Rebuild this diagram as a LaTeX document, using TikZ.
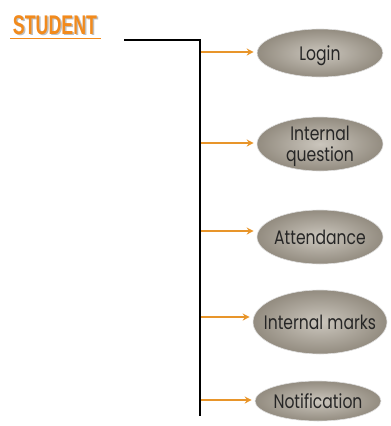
\documentclass[tikz,border=0pt]{standalone}
\usepackage{fontspec}
\setmainfont{Poppins}
\newfontfamily\titlefont{Liberation Sans}
\usetikzlibrary{shapes.geometric,arrows.meta,shadows}
\definecolor{arroworange}{HTML}{E8952A}
\definecolor{titleorange}{HTML}{F28A1C}
\definecolor{ellfill}{HTML}{938C80}
\definecolor{elllight}{HTML}{CBC6BD}
\definecolor{elltext}{HTML}{262626}
\newcommand{\uctext}[1]{\makebox[0pt]{\raisebox{-8pt}[0pt][0pt]{$\vcenter{\hbox{\scalebox{0.8}[1]{\begin{tabular}{@{}c@{}}#1\end{tabular}}}}$}}}
\tikzset{
  usecase/.style={ellipse, draw=white!75!gray, line width=0.6pt,
    inner color=elllight, outer color=ellfill,
    text=elltext, font=\fontsize{19.5}{19}\selectfont, inner sep=0pt},
  trunk/.style={draw=black, line width=1.8pt},
  branch/.style={draw=arroworange, line width=1.8pt, -{Stealth[length=7pt,width=7pt]}, shorten >=3pt}
}
\begin{document}
\begin{tikzpicture}[x=1pt,y=-1pt]
\useasboundingbox (0,0) rectangle (391,426);
% title
\node[text=black!25, font=\titlefont\bfseries\fontsize{27}{28}\selectfont, xscale=0.66] at (56.5,26.5) {STUDENT};
\node (title) [text=titleorange, font=\titlefont\bfseries\fontsize{27}{28}\selectfont, xscale=0.66] at (55,25) {STUDENT};
\draw[titleorange, line width=1.8pt] (10,38.5) -- (101,38.5);
% trunk
\coordinate (start) at (124,40);
\coordinate (corner) at (200,40);
\coordinate (bottom) at (200,416);
\draw[trunk] (start) -- (corner) -- (bottom);
% use cases
\node (login) [usecase, minimum width=126pt, minimum height=48pt] at (320,53) {\uctext{Login}};
\node (iq) [usecase, minimum width=126pt, minimum height=54pt] at (320,144) {\uctext{Internal\\[1pt]question}};
\node (att) [usecase, minimum width=126pt, minimum height=54pt] at (320,237) {\uctext{Attendance}};
\node (im) [usecase, minimum width=134pt, minimum height=64pt] at (320,322) {\uctext{Internal marks}};
\node (notif) [usecase, minimum width=126pt, minimum height=40pt] at (318,401) {\uctext{Notification}};
% branch points
\coordinate (b1) at (201,52);
\coordinate (b2) at (201,143);
\coordinate (b3) at (201,231);
\coordinate (b4) at (201,317);
\coordinate (b5) at (201,400);
\draw[branch] (b1) -- (login.west |- b1);
\draw[branch] (b2) -- (iq.west |- b2);
\draw[branch] (b3) -- (att.west |- b3);
\draw[branch] (b4) -- (im.west |- b4);
\draw[branch] (b5) -- (notif.west |- b5);
\end{tikzpicture}
\end{document}
